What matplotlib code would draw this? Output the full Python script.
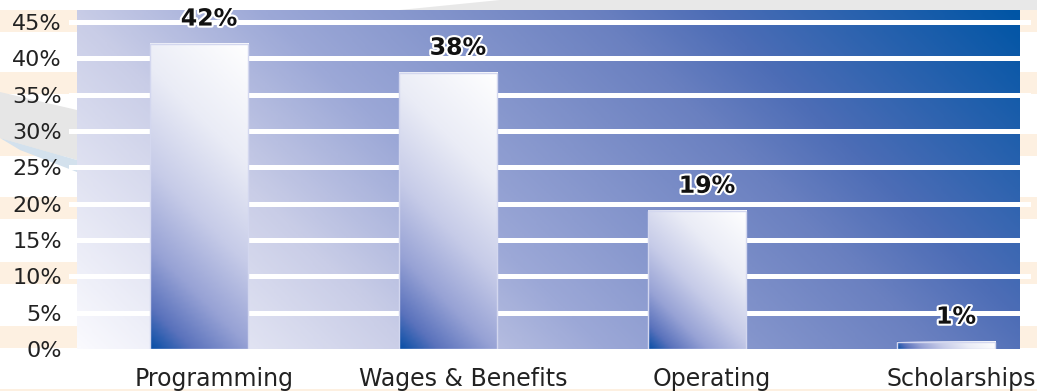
import numpy as np
import matplotlib.pyplot as plt
from matplotlib.colors import LinearSegmentedColormap
from matplotlib.patches import Rectangle, Polygon
import matplotlib.patheffects as pe

# Spending breakdown
categories = ['Programming', 'Wages & Benefits', 'Operating', 'Scholarships']
shares = [42, 38, 19, 1]
y_ticks = [0, 5, 10, 15, 20, 25, 30, 35, 40, 45]
y_tick_labels = [f'{v}%' for v in y_ticks]

W, H = 1037, 391
fig = plt.figure(figsize=(W / 100, H / 100), dpi=100)
fig.patch.set_facecolor('white')


def px(x, y):
    # pixel position (from top-left) -> figure fraction
    return (x / W, 1 - y / H)


# peach stripes behind the side labels
for top in [10, 72, 134, 197, 262, 326]:
    for x0, x1 in [(0, 77), (1020, 1037)]:
        fig.add_artist(Rectangle(px(x0, top + 22), (x1 - x0) / W, 22 / H,
                                 transform=fig.transFigure, color='#fdf0e1',
                                 zorder=-5, lw=0))
fig.add_artist(Rectangle(px(0, 391), 1, 2 / H, transform=fig.transFigure,
                         color='#fdf0e1', zorder=-5, lw=0))

# grey swooshes
fig.add_artist(Polygon([px(0, 92), px(77, 110), px(77, 160), px(0, 138)],
                       closed=True, transform=fig.transFigure,
                       color='#e6e6e6', zorder=-4, lw=0))
fig.add_artist(Polygon([px(0, 138), px(77, 160), px(77, 172), px(20, 150)],
                       closed=True, transform=fig.transFigure,
                       color='#d3e1ed', zorder=-4, lw=0))
fig.add_artist(Polygon([px(400, 10), px(500, 0), px(1037, 0), px(1037, 10)],
                       closed=True, transform=fig.transFigure,
                       color='#e8e8e8', zorder=-4, lw=0))

ax = fig.add_axes([77 / W, 1 - 349 / H, 943 / W, 339 / H])
ax.set_facecolor('none')

x = np.arange(len(categories))
bar_w = 0.394
xlim = (-0.49, 3.297)
ylim = (0, 46.63)

# background: 45-degree gradient in pixel space
bg_cmap = LinearSegmentedColormap.from_list(
    'bg', [(0, '#fafafe'), (0.26, '#c9cde7'), (0.41, '#9ca8d7'),
           (0.67, '#6a80c0'), (0.76, '#4d6db6'), (1, '#0055a5')])
gx, gy = np.meshgrid(np.linspace(0, 943, 400), np.linspace(0, 339, 150))
ax.imshow((gx + gy) / (943 + 339), cmap=bg_cmap, vmin=0, vmax=1,
          origin='lower', extent=[0, 1, 0, 1], transform=ax.transAxes,
          aspect='auto', zorder=0, interpolation='bilinear')

# white grid lines, running a little past the plot edges
for v in y_ticks[1:]:
    ax.axhline(v, xmin=-0.006, xmax=1.008, color='white', lw=3.6,
               zorder=1, clip_on=False)

# bars with diagonal gradient fill
bar_cmap = LinearSegmentedColormap.from_list(
    'bar', [(0, '#0a4fa6'), (0.1, '#5a72bc'), (0.25, '#97a2d5'),
            (0.45, '#c6cbe8'), (0.7, '#eaecf6'), (1, '#ffffff')])
bars = ax.bar(x, shares, width=bar_w, fill=False, edgecolor='#d3d7ef',
              lw=1, zorder=3)
px_per_unit_x = 943 / (xlim[1] - xlim[0])
px_per_unit_y = 339 / (ylim[1] - ylim[0])
for b in bars:
    bw = b.get_width() * px_per_unit_x
    bh = b.get_height() * px_per_unit_y
    bx, by = np.meshgrid(np.linspace(0, bw, 60), np.linspace(0, bh, 120))
    ax.imshow((bx + by) / (bw + bh), cmap=bar_cmap, vmin=0, vmax=1,
              origin='lower', aspect='auto', zorder=2,
              interpolation='bilinear',
              extent=[b.get_x(), b.get_x() + b.get_width(), 0, b.get_height()])
    ax.text(b.get_x() + b.get_width() / 2 + 0.04, b.get_height() + 1.8,
            f'{b.get_height():.0f}%', ha='center', va='bottom',
            fontsize=17, fontweight='bold', color='#111111', zorder=5,
            path_effects=[pe.withStroke(linewidth=3, foreground='white')])

ax.set_xlim(*xlim)
ax.set_ylim(*ylim)

ax.set_yticks(y_ticks)
ax.set_yticklabels(y_tick_labels, fontsize=16, color='#222222')
ax.set_xticks(x + 0.06)
ax.set_xticklabels(categories, fontsize=17, color='#222222')
ax.tick_params(axis='y', length=0, pad=11)
ax.tick_params(axis='x', length=0, pad=13)
for s in ax.spines.values():
    s.set_visible(False)

fig.savefig('out.png', dpi=100)
